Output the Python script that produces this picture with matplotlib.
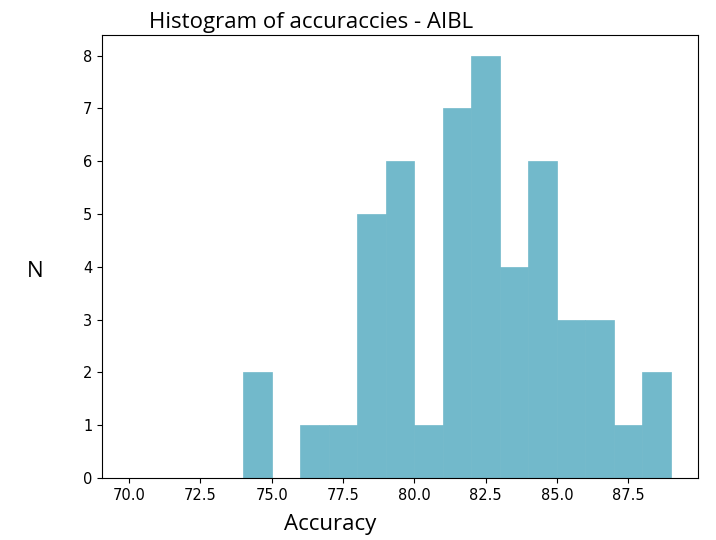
import numpy as np
import matplotlib
matplotlib.use("Agg")
import matplotlib.pyplot as plt

# Histogram counts per 1-point accuracy bin (70..89)
bin_edges = list(range(70, 90))
counts = [0, 0, 0, 0, 2, 0, 1, 1, 5, 6, 1, 7, 8, 4, 6, 3, 3, 1, 2]

fig = plt.figure(figsize=(7.16, 5.4), dpi=100)
ax = fig.add_axes([0.1425, 0.1148, 0.8325, 0.8212])

ax.hist(bin_edges[:-1], bins=bin_edges, weights=counts,
        color="#72B9CB", edgecolor="#72B9CB", linewidth=0.5)

ax.set_xticks([70.0, 72.5, 75.0, 77.5, 80.0, 82.5, 85.0, 87.5])
ax.set_xticklabels(["70.0", "72.5", "75.0", "77.5", "80.0", "82.5", "85.0", "87.5"])
ax.tick_params(labelsize=10.5)

fig.text(311 / 716, 1 - 28 / 540, "Histogram of accuraccies - AIBL",
         fontsize=16, family="Open Sans", ha="center", va="baseline")
fig.text(330 / 716, 1 - 530 / 540, "Accuracy",
         fontsize=16, family="Open Sans", ha="center", va="baseline")
fig.text(35 / 716, 1 - 277 / 540, "N",
         fontsize=16, family="Open Sans", ha="center", va="baseline")

fig.savefig("out.png", dpi=100)
